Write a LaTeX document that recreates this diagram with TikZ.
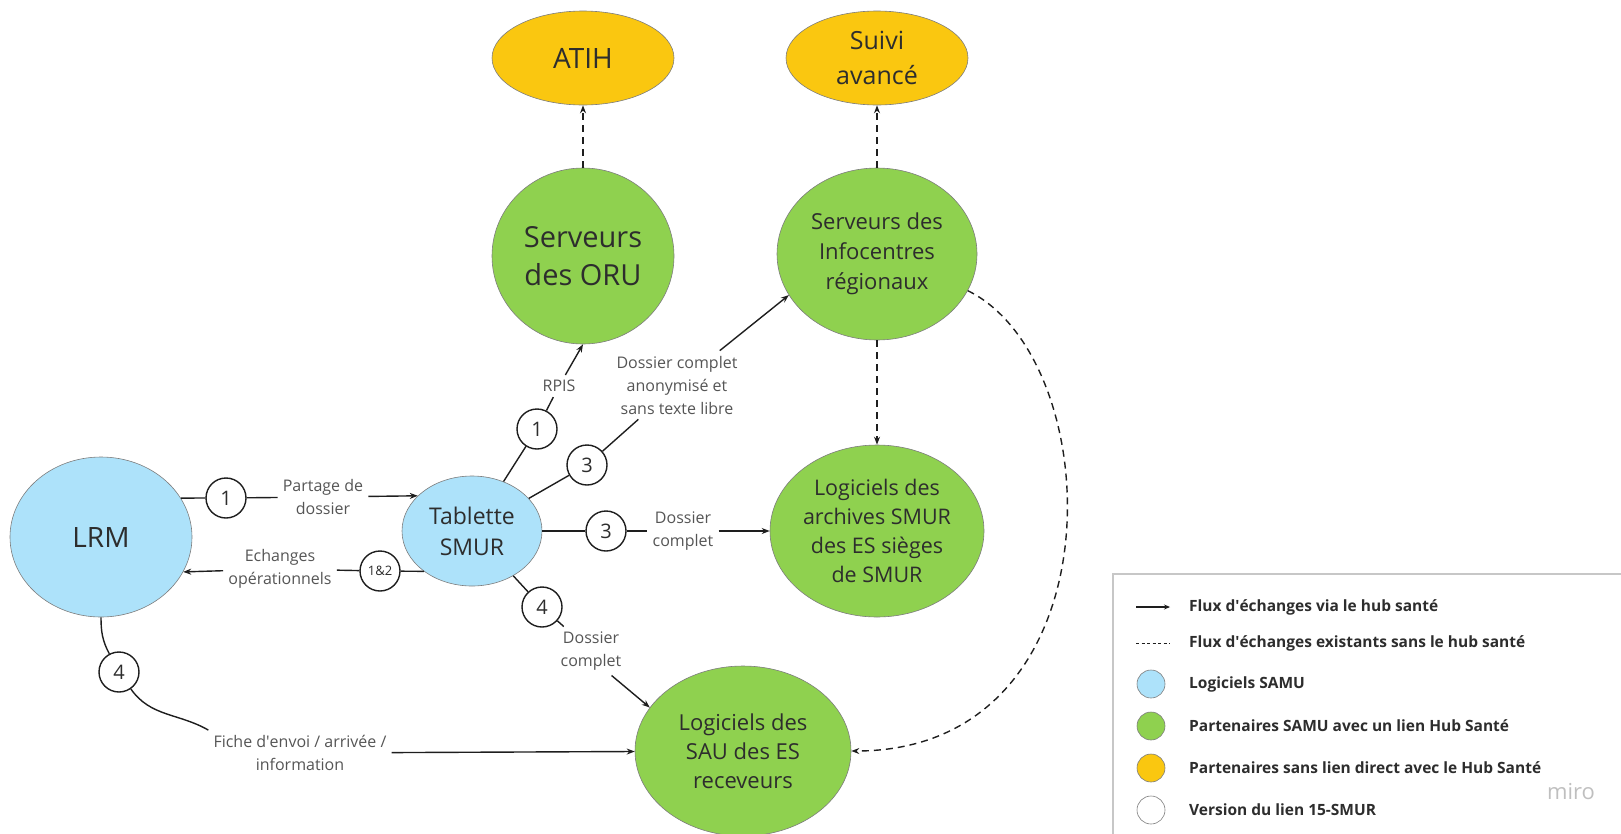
\documentclass[tikz,border=0pt]{standalone}
\usepackage{fontspec}
\setmainfont{Open Sans}
\usetikzlibrary{shapes.geometric,arrows.meta}
\definecolor{samublue}{RGB}{173,226,250}
\definecolor{hubgreen}{RGB}{143,209,79}
\definecolor{partyellow}{RGB}{250,199,16}
\definecolor{txt}{RGB}{45,45,45}
\definecolor{lbl}{RGB}{85,85,85}
\definecolor{edgec}{RGB}{125,125,125}
\definecolor{linec}{RGB}{30,30,30}
\begin{document}
\begin{tikzpicture}[x=1pt,y=-1pt,
  blob/.style={ellipse, draw=edgec, line width=0.6pt, inner sep=0pt, align=center, text=txt},
  bluenode/.style={blob, fill=samublue},
  greennode/.style={blob, fill=hubgreen},
  yellownode/.style={blob, fill=partyellow},
  num/.style={circle, draw=linec, line width=1.4pt, fill=white, minimum size=40pt, inner sep=0pt, font=\fontsize{20}{24}\selectfont, text=txt},
  lab/.style={align=center, inner sep=5pt, text=lbl, font=\fontsize{16}{23}\selectfont},
  link/.style={draw=linec, line width=1.4pt},
  flow/.style={link, -{Stealth[length=8pt,width=6pt]}},
  exist/.style={draw=linec, line width=1.4pt, dash pattern=on 7pt off 5pt, -{Stealth[length=8pt,width=6pt]}},
  legtext/.style={anchor=west, font=\bfseries\fontsize{15.5}{18}\selectfont, text=txt, inner sep=0pt},
  legdot/.style={circle, draw=edgec, line width=0.6pt, minimum size=28pt, inner sep=0pt},
]
\useasboundingbox (0,0) rectangle (1621,833);
\clip (0,0) rectangle (1621,833);

% main nodes
\node[bluenode, minimum width=182pt, minimum height=160pt, font=\fontsize{28}{34}\selectfont] (lrm) at (101,537) {LRM};
\node[bluenode, minimum width=140pt, minimum height=110pt, font=\fontsize{23}{31}\selectfont] (tab) at (472,531) {Tablette\\SMUR};
\node[yellownode, minimum width=182pt, minimum height=94pt, font=\fontsize{28}{34}\selectfont] (atih) at (583,58) {ATIH};
\node[yellownode, minimum width=182pt, minimum height=94pt, font=\fontsize{25}{35}\selectfont] (suivi) at (877,58) {Suivi\\avancé};
\node[greennode, minimum width=182pt, minimum height=176pt, font=\fontsize{29}{38}\selectfont] (oru) at (583,256) {Serveurs\\des ORU};
\node[greennode, minimum width=200pt, minimum height=172pt, font=\fontsize{22}{30}\selectfont] (info) at (877,254) {Serveurs des\\Infocentres\\régionaux};
\node[greennode, minimum width=214pt, minimum height=172pt, font=\fontsize{21.5}{29}\selectfont] (arch) at (877,531) {Logiciels des\\archives SMUR\\des ES sièges\\de SMUR};
\node[greennode, minimum width=216pt, minimum height=170pt, font=\fontsize{22}{29}\selectfont] (sau) at (743,751) {Logiciels des\\SAU des ES\\receveurs};

% number circles
\node[num] (c1a) at (226,498) {1};
\node[num, font=\fontsize{13}{15}\selectfont] (c12) at (380,571) {1\&2};
\node[num] (c1u) at (537,429) {1};
\node[num] (c3u) at (587,465) {3};
\node[num] (c3m) at (606,531) {3};
\node[num] (c4t) at (542,607) {4};
\node[num] (c4l) at (119,672) {4};

% labels
\node[lab] (lpart) at (323,497) {Partage de\\dossier};
\node[lab] (lech) at (280,569) {Echanges\\opérationnels};
\node[lab] (lrpis) at (559,386) {RPIS};
\node[lab] (l3u) at (677,385) {Dossier complet\\anonymisé et\\sans texte libre};
\node[lab] (l3m) at (683,531) {Dossier\\complet};
\node[lab] (l4t) at (591,651) {Dossier\\complet};
\node[lab] (lfiche) at (300,753) {Fiche d\textquotesingle envoi / arrivée /\\information};

% connectors
\draw[link] (lrm.26) -- (c1a);
\draw[link] (c1a) -- (lpart);
\draw[flow] (lpart) -- (tab.147);

\draw[link] (tab.220) -- (c12);
\draw[link] (c12) -- (lech);
\draw[flow] (lech) -- (lrm.-23);

\draw[link] (tab) -- (c1u);
\draw[link] (c1u) -- (lrpis);
\draw[flow] (lrpis) -- (oru.south);

\draw[link] (tab) -- (c3u);
\draw[link] (c3u) -- (l3u);
\draw[flow] (l3u) -- (info.205);

\draw[link] (tab) -- (c3m);
\draw[link] (c3m) -- (l3m);
\draw[flow] (l3m) -- (arch);

\draw[link] (tab) -- (c4t);
\draw[link] (c4t) -- (l4t);
\draw[flow] (l4t.-50) -- (sau.155);

\draw[link] (lrm.south) to[out=-90, in=118] (c4l);
\draw[link] (c4l) to[out=-55, in=150] (lfiche.north west);
\draw[flow] (lfiche) -- (sau);

\draw[exist] (oru) -- (atih);
\draw[exist] (info) -- (suivi);
\draw[exist] (info) -- (arch);
\draw[exist] (info.-22) .. controls +(143,70) and +(270,0) .. (sau.east);

% legend
\draw[draw=black!22, line width=1.5pt] (1113,574) rectangle (1640,850);
\coordinate (la1) at (1136,607);
\coordinate (la2) at (1170,607);
\draw[draw=linec, line width=1.2pt, -{Stealth[length=6pt,width=5pt]}] (la1) -- (la2);
\node[legtext] (t1) at (1189,607) {Flux d\textquotesingle échanges via le hub santé};
\coordinate (ld1) at (1136,643);
\coordinate (ld2) at (1170,643);
\draw[draw=linec, line width=0.8pt, dash pattern=on 3pt off 2.5pt] (ld1) -- (ld2);
\node[legtext] (t2) at (1189,643) {Flux d\textquotesingle échanges existants sans le hub santé};
\node[legdot, fill=samublue] (d1) at (1151,684) {};
\node[legtext] (t3) at (1189,684) {Logiciels SAMU};
\node[legdot, fill=hubgreen] (d2) at (1151,726) {};
\node[legtext] (t4) at (1189,726) {Partenaires SAMU avec un lien Hub Santé};
\node[legdot, fill=partyellow] (d3) at (1151,768) {};
\node[legtext] (t5) at (1189,768) {Partenaires sans lien direct avec le Hub Santé};
\node[legdot, fill=white] (d4) at (1151,810) {};
\node[legtext] (t6) at (1189,810) {Version du lien 15-SMUR};
\node[font=\fontsize{22}{26}\selectfont, text=black!25] (miro) at (1571,792) {miro};
\end{tikzpicture}
\end{document}
